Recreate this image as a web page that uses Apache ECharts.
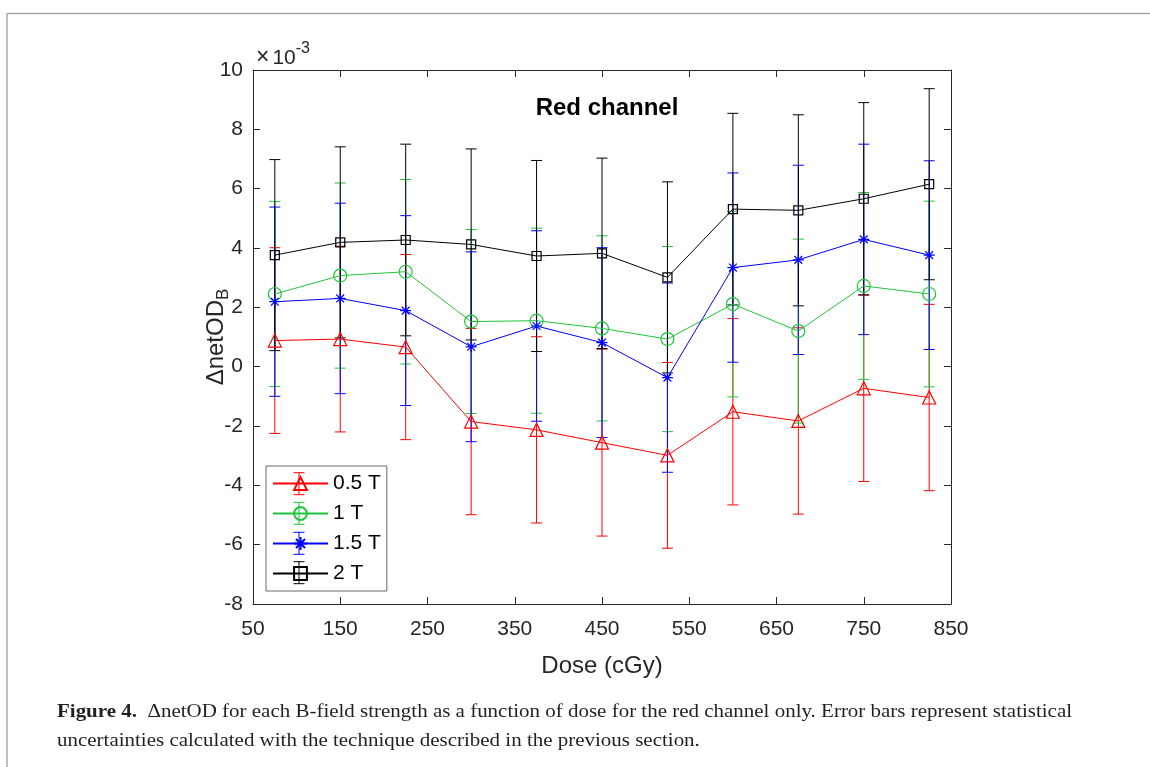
<!DOCTYPE html>
<html>
<head>
<meta charset="utf-8">
<script src="https://cdn.jsdelivr.net/npm/echarts@6/dist/echarts.min.js"></script>
<style>
html, body { margin: 0; padding: 0; background: #fff; }
#main { width: 1150px; height: 767px; }
</style>
</head>
<body>
<div id="main"></div>
<script>
// dose values (cGy), y values in units of 1e-3
var doses = [75, 150, 225, 300, 375, 450, 525, 600, 675, 750, 825];

var t05 = [0.88, 0.93, 0.66, -1.85, -2.13, -2.56, -2.99, -1.52, -1.83, -0.73, -1.04];
var t05Err = [3.13, 3.13, 3.12, 3.14, 3.14, 3.15, 3.13, 3.14, 3.14, 3.14, 3.14];

var t1 = [2.45, 3.07, 3.20, 1.52, 1.55, 1.29, 0.93, 2.11, 1.20, 2.72, 2.45];
var t1Err = [3.12, 3.12, 3.11, 3.10, 3.12, 3.12, 3.12, 3.13, 3.10, 3.15, 3.13];

var t15 = [2.19, 2.30, 1.89, 0.67, 1.37, 0.81, -0.37, 3.34, 3.60, 4.29, 3.76];
var t15Err = [3.19, 3.21, 3.20, 3.20, 3.21, 3.20, 3.19, 3.19, 3.19, 3.21, 3.18];

var t2 = [3.76, 4.19, 4.27, 4.12, 3.73, 3.82, 3.01, 5.31, 5.27, 5.66, 6.15];
var t2Err = [3.22, 3.22, 3.23, 3.22, 3.22, 3.21, 3.22, 3.23, 3.22, 3.24, 3.22];

var names = ['0.5 T', '1 T', '1.5 T', '2 T'];
var colors = ['#ff0000', '#1fc43a', '#0000ff', '#000000'];

var FONT = "'Liberation Sans', Arial, sans-serif";
var SERIF = "'Liberation Serif', 'Times New Roman', serif";
var AXIS = '#262626';
var asterisk = 'path://M0,-10 L0,10 M-10,0 L10,0 M-7.07,-7.07 L7.07,7.07 M-7.07,7.07 L7.07,-7.07';

function pairs(vals) {
    return doses.map(function (d, i) { return [d, vals[i]]; });
}

function errorBars(name, color, vals, errs) {
    return {
        name: name + ' err',
        type: 'custom',
        data: doses.map(function (d, i) { return [d, vals[i] - errs[i], vals[i] + errs[i]]; }),
        encode: { x: 0, y: [1, 2] },
        renderItem: function (params, api) {
            var lo = api.coord([api.value(0), api.value(1)]);
            var hi = api.coord([api.value(0), api.value(2)]);
            var w = 5.5;
            var st = { stroke: color, lineWidth: 1 };
            return {
                type: 'group',
                children: [
                    { type: 'line', shape: { x1: hi[0], y1: hi[1], x2: lo[0], y2: lo[1] }, style: st },
                    { type: 'line', shape: { x1: hi[0] - w, y1: hi[1], x2: hi[0] + w, y2: hi[1] }, style: st },
                    { type: 'line', shape: { x1: lo[0] - w, y1: lo[1], x2: lo[0] + w, y2: lo[1] }, style: st }
                ]
            };
        }
    };
}

function lineSeries(name, color, vals, symbol, size) {
    return {
        name: name,
        type: 'line',
        data: pairs(vals),
        symbol: symbol,
        symbolSize: size,
        showAllSymbol: true,
        lineStyle: { color: color, width: 1 },
        itemStyle: { color: 'rgba(0,0,0,0)', borderColor: color, borderWidth: 1.2 }
    };
}

function boxAxis(extra) {
    var ax = {
        type: 'value',
        axisLine: { onZero: false, lineStyle: { color: AXIS, width: 1 } },
        axisTick: { inside: true, length: 7, lineStyle: { color: AXIS } },
        axisLabel: { show: false },
        splitLine: { show: false }
    };
    for (var k in extra) ax[k] = extra[k];
    return ax;
}

var chart = echarts.init(document.getElementById('main'));

// error-bar glyphs drawn over the legend icons
var legendBars = [];
[483.7, 513.3, 543.3, 572.7].forEach(function (cy, i) {
    var st = { stroke: colors[i], lineWidth: 1 };
    legendBars.push({ type: 'line', shape: { x1: 299, y1: cy - 11, x2: 299, y2: cy + 11 }, style: st, z: 100 });
    legendBars.push({ type: 'line', shape: { x1: 293.5, y1: cy - 11, x2: 304.5, y2: cy - 11 }, style: st, z: 100 });
    legendBars.push({ type: 'line', shape: { x1: 293.5, y1: cy + 11, x2: 304.5, y2: cy + 11 }, style: st, z: 100 });
});

chart.setOption({
    animation: false,
    backgroundColor: '#fff',
    grid: { left: 253, top: 70, width: 698, height: 534 },
    title: {
        text: 'Red channel',
        left: 602,
        top: 91,
        textAlign: 'center',
        textStyle: { fontFamily: FONT, fontSize: 24, fontWeight: 'bold', color: '#000' }
    },
    legend: {
        data: names,
        orient: 'vertical',
        left: 266,
        top: 466,
        padding: [7, 6, 7, 6],
        itemWidth: 55,
        itemHeight: 16,
        itemGap: 9,
        backgroundColor: '#fff',
        borderColor: '#666',
        borderWidth: 1,
        borderRadius: 0,
        textStyle: { fontFamily: FONT, fontSize: 21, color: '#000' }
    },
    xAxis: [
        boxAxis({
            min: 50, max: 850, interval: 100,
            name: 'Dose (cGy)',
            nameLocation: 'middle',
            nameGap: 50,
            nameMoveOverlap: false,
            nameTextStyle: { fontFamily: FONT, fontSize: 24, color: AXIS },
            axisLabel: { fontFamily: FONT, fontSize: 21, color: AXIS, margin: 15 }
        }),
        boxAxis({ position: 'top', min: 50, max: 850, interval: 100 })
    ],
    yAxis: [
        boxAxis({
            min: -8, max: 10, interval: 2,
            name: '{a|ΔnetOD}{b|B}',
            nameLocation: 'middle',
            nameGap: 21,
            nameRotate: 90,
            nameMoveOverlap: false,
            nameTextStyle: {
                color: AXIS,
                rich: {
                    a: { fontFamily: FONT, fontSize: 24, color: AXIS, lineHeight: 32, verticalAlign: 'middle' },
                    b: { fontFamily: FONT, fontSize: 17, color: AXIS, lineHeight: 17, verticalAlign: 'bottom' }
                }
            },
            axisLabel: { fontFamily: FONT, fontSize: 21, color: AXIS, margin: 10 }
        }),
        boxAxis({ position: 'right', min: -8, max: 10, interval: 2 })
    ],
    graphic: [
        { type: 'line', shape: { x1: 7, y1: 13.5, x2: 1150, y2: 13.5 }, style: { stroke: '#a9a9a9', lineWidth: 1.5 } },
        { type: 'line', shape: { x1: 7, y1: 13.5, x2: 7, y2: 767 }, style: { stroke: '#a9a9a9', lineWidth: 1.5 } },
        {
            type: 'text', left: 256, top: 41,
            style: {
                text: '{x|×}{m|10}{s|-3}',
                rich: {
                    x: { fontFamily: FONT, fontSize: 23, fill: AXIS, lineHeight: 28, verticalAlign: 'bottom', padding: [0, 3, 0, 0] },
                    m: { fontFamily: FONT, fontSize: 21, fill: AXIS, lineHeight: 28, verticalAlign: 'bottom' },
                    s: { fontFamily: FONT, fontSize: 16, fill: AXIS, lineHeight: 15, verticalAlign: 'top' }
                }
            }
        },
        {
            type: 'text', x: 57, y: 703, scaleX: 1.165,
            style: {
                text: '{b|Figure 4.}  ΔnetOD for each B-field strength as a function of dose for the red channel only. Error bars represent statistical',
                fontFamily: SERIF,
                fontSize: 18,
                fill: '#231f20',
                rich: { b: { fontFamily: SERIF, fontSize: 18, fontWeight: 'bold', fill: '#231f20' } }
            }
        },
        {
            type: 'text', x: 57, y: 732, scaleX: 1.165,
            style: {
                text: 'uncertainties calculated with the technique described in the previous section.',
                fontFamily: SERIF,
                fontSize: 18,
                fill: '#231f20'
            }
        }
    ].concat(legendBars),
    series: [
        errorBars(names[0], colors[0], t05, t05Err),
        lineSeries(names[0], colors[0], t05, 'triangle', 13),
        errorBars(names[1], colors[1], t1, t1Err),
        lineSeries(names[1], colors[1], t1, 'circle', 13),
        errorBars(names[2], colors[2], t15, t15Err),
        lineSeries(names[2], colors[2], t15, asterisk, 11),
        errorBars(names[3], colors[3], t2, t2Err),
        lineSeries(names[3], colors[3], t2, 'rect', 9)
    ]
});
</script>
</body>
</html>
